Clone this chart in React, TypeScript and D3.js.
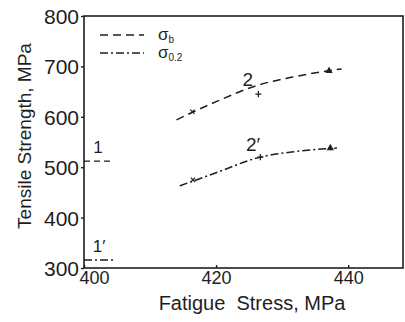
import { useEffect, useRef } from 'react';
import * as d3 from 'd3';

// axis ticks
const xTicks = [400, 420, 440];
const yTicks = [300, 400, 500, 600, 700, 800];

// curve 2 (sigma_b), drawn line and measured points
const curve2X = [414, 420, 426.4, 432, 439];
const curve2Y = [594, 630, 663, 680, 695];
const points2X = [416.4, 426.4, 437.1];
const points2Y = [610, 645, 691];

// curve 2' (sigma_0.2)
const curve2pX = [414.5, 419.6, 426.7, 432, 438.3];
const curve2pY = [463, 487, 520, 531, 538];
const points2pX = [416.5, 426.7, 437.3];
const points2pY = [475, 520, 538];

// reference levels 1 and 1'
const level1 = 512;
const level1p = 316;
const levelEnd = 404.5;

const W = 405;
const H = 322;

export default function App() {
  const svgRef = useRef<SVGSVGElement>(null);

  useEffect(() => {
    if (!svgRef.current) return;
    const svg = d3.select(svgRef.current);
    svg.selectAll('*').remove();

    const left = 84, right = 403, top = 16, bottom = 268;
    const x = d3.scaleLinear().domain([400, 448.3]).range([left, right]);
    const y = d3.scaleLinear().domain([300, 800]).range([bottom, top]);
    const ink = '#1e1e1e';
    const font = '"Liberation Sans", Arial, sans-serif';

    // frame
    svg.append('rect')
      .attr('x', left).attr('y', top)
      .attr('width', right - left).attr('height', bottom - top)
      .attr('fill', 'none').attr('stroke', ink).attr('stroke-width', 1.6);

    // y axis
    const yAxis = svg.append('g')
      .attr('transform', `translate(${left},0)`)
      .call(d3.axisLeft(y).tickValues(yTicks).tickSize(3).tickSizeOuter(0));
    yAxis.select('.domain').remove();
    yAxis.selectAll('line').attr('stroke', ink).attr('stroke-width', 1.4);
    yAxis.selectAll('text')
      .attr('font-family', font).attr('font-size', 21).attr('fill', ink)
      .attr('x', -5).attr('dy', '0.36em');

    // x axis
    const xAxis = svg.append('g')
      .attr('transform', `translate(0,${bottom})`)
      .call(d3.axisBottom(x).tickValues(xTicks).tickSize(-3).tickSizeOuter(0));
    xAxis.select('.domain').remove();
    xAxis.selectAll('line').attr('stroke', ink).attr('stroke-width', 1.4);
    xAxis.selectAll('text')
      .attr('font-family', font).attr('font-size', 18).attr('fill', ink)
      .attr('y', 2).attr('dy', '0.75em')
      .attr('dx', (d: any) => (d === 400 ? 10 : 0));

    // axis titles
    svg.append('text')
      .attr('transform', `translate(31,${(top + bottom) / 2 - 6}) rotate(-90)`)
      .attr('text-anchor', 'middle')
      .attr('font-family', font).attr('font-size', 19).attr('fill', ink)
      .text('Tensile Strength, MPa');
    svg.append('text')
      .attr('x', 252).attr('y', 310)
      .attr('text-anchor', 'middle')
      .attr('font-family', font).attr('font-size', 20).attr('fill', ink)
      .attr('xml:space', 'preserve')
      .style('white-space', 'pre')
      .text('Fatigue  Stress, MPa');

    const dashed = '8,5';
    const dashDot = '8,3,2,3';

    const line = d3.line<[number, number]>()
      .x(d => x(d[0]))
      .y(d => y(d[1]))
      .curve(d3.curveMonotoneX);

    const drawCurve = (xs: number[], ys: number[], dash: string) => {
      svg.append('path')
        .datum(xs.map((v, i) => [v, ys[i]] as [number, number]))
        .attr('fill', 'none').attr('stroke', ink).attr('stroke-width', 1.5)
        .attr('stroke-dasharray', dash)
        .attr('d', line);
    };
    drawCurve(curve2X, curve2Y, dashed);
    drawCurve(curve2pX, curve2pY, dashDot);

    const symbols = [d3.symbolX, d3.symbolPlus, d3.symbolTriangle];
    const drawPoints = (xs: number[], ys: number[]) => {
      xs.forEach((v, i) => {
        const filled = symbols[i] === d3.symbolTriangle;
        svg.append('path')
          .attr('transform', `translate(${x(v)},${y(ys[i])})`)
          .attr('d', d3.symbol(symbols[i], filled ? 12 : 14)())
          .attr('fill', filled ? ink : 'none')
          .attr('stroke', ink).attr('stroke-width', 1.2);
      });
    };
    drawPoints(points2X, points2Y);
    drawPoints(points2pX, points2pY);

    // levels 1 and 1'
    svg.append('line')
      .attr('x1', x(400)).attr('x2', x(levelEnd))
      .attr('y1', y(level1)).attr('y2', y(level1))
      .attr('stroke', ink).attr('stroke-width', 1.4).attr('stroke-dasharray', '6,4');
    svg.append('line')
      .attr('x1', x(400)).attr('x2', x(levelEnd))
      .attr('y1', y(level1p)).attr('y2', y(level1p))
      .attr('stroke', ink).attr('stroke-width', 1.4).attr('stroke-dasharray', dashDot);

    // curve labels
    const label = (tx: number, ty: number, t: string, size = 19) =>
      svg.append('text')
        .attr('x', tx).attr('y', ty)
        .attr('text-anchor', 'middle')
        .attr('font-family', font).attr('font-size', size).attr('fill', ink)
        .text(t);
    label(x(424.8), y(662), '2');
    label(x(425.6), y(533), '2\u2032');
    label(x(402.1), y(528), '1', 17);
    label(x(402.3), y(331), '1\u2032', 17);

    // legend
    const legend = [
      { dash: dashed, name: 'b', ly: 35 },
      { dash: dashDot, name: '0.2', ly: 53 },
    ];
    legend.forEach(l => {
      svg.append('line')
        .attr('x1', 100).attr('x2', 144)
        .attr('y1', l.ly).attr('y2', l.ly)
        .attr('stroke', ink).attr('stroke-width', 1.5)
        .attr('stroke-dasharray', l.dash);
      const t = svg.append('text')
        .attr('x', 158).attr('y', l.ly + 5)
        .attr('font-family', font).attr('font-size', 17).attr('fill', ink);
      t.append('tspan').text('σ');
      t.append('tspan').attr('font-size', 10).attr('dy', 3).text(l.name);
    });
  }, []);

  return (
    <svg
      ref={svgRef}
      width={W}
      height={H}
      style={{ position: 'absolute', left: 0, top: 0, background: '#fff' }}
    />
  );
}
